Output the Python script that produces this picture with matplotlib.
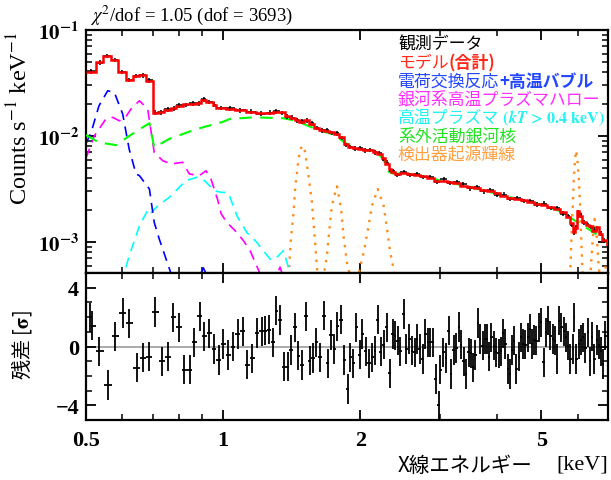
import matplotlib
matplotlib.use("Agg")
import matplotlib.pyplot as plt
import numpy as np
from matplotlib.ticker import FixedLocator, FixedFormatter, NullFormatter

plt.rcParams["font.family"] = ["Liberation Serif", "DejaVu Serif"]
plt.rcParams["mathtext.fontset"] = "stix"

CJK = ["Noto Sans CJK JP", "DejaVu Sans"]

# --- model (total) : step histogram, bin edges [keV] and rate per bin
model_edges = [
    0.500, 0.526, 0.545, 0.567, 0.589, 0.612, 0.633, 0.655, 0.677, 0.701,
    0.718, 0.743, 0.769, 0.788, 0.815, 0.843, 0.872, 0.895, 0.917, 0.949,
    0.965, 1.015, 1.060, 1.120, 1.180, 1.240, 1.290, 1.330, 1.365, 1.400,
    1.435, 1.470, 1.505, 1.545, 1.585, 1.625, 1.665, 1.710, 1.755, 1.800,
    1.845, 1.880, 1.925, 1.975, 2.025, 2.080, 2.130, 2.180, 2.230, 2.270,
    2.310, 2.340, 2.380, 2.450, 2.530, 2.620, 2.700, 2.800, 2.900, 3.000,
    3.100, 3.200, 3.310, 3.430, 3.550, 3.670, 3.800, 3.930, 4.060, 4.200,
    4.350, 4.500, 4.650, 4.810, 4.980, 5.150, 5.320, 5.500, 5.670, 5.790,
    5.860, 5.920, 5.980, 6.050, 6.150, 6.250, 6.370, 6.470, 6.580, 6.680,
    6.800, 6.950, 7.100,
]
model_rate = [
    0.0405, 0.0496, 0.0565, 0.0524, 0.0398, 0.0340, 0.0365, 0.0378, 0.0331, 0.0164,
    0.0169, 0.0176, 0.0182, 0.0193, 0.0199, 0.0201, 0.0205, 0.0219, 0.0211, 0.0196,
    0.0185, 0.0181, 0.0176, 0.0169, 0.0165, 0.0164, 0.0169, 0.0167, 0.0154, 0.0147,
    0.0143, 0.0137, 0.0142, 0.0130, 0.0118, 0.0115, 0.0112, 0.0108, 0.0104, 0.0097,
    0.0084, 0.0078, 0.0077, 0.0075, 0.0074, 0.0073, 0.0071, 0.0068, 0.0062, 0.0055,
    0.0049, 0.0046, 0.0044, 0.0045, 0.0044, 0.0043, 0.0042, 0.0040, 0.0038, 0.0038,
    0.0037, 0.0036, 0.0034, 0.0033, 0.0032, 0.0031, 0.0030, 0.0029, 0.0027, 0.0026,
    0.00254, 0.0025, 0.0024, 0.0023, 0.00224, 0.00215, 0.00205, 0.0019, 0.00172, 0.00150,
    0.00125, 0.00135, 0.00195, 0.00175, 0.00155, 0.00145, 0.00142, 0.00128, 0.00138, 0.00118,
    0.00105, 0.00096,
]
# observed data in the same bins
data_rate = [
    0.0408, 0.0492, 0.0570, 0.0520, 0.0402, 0.0337, 0.0368, 0.0375, 0.0334, 0.0166,
    0.0167, 0.0178, 0.0181, 0.0195, 0.0197, 0.0203, 0.0203, 0.0221, 0.0209, 0.0198,
    0.0184, 0.0183, 0.0175, 0.0170, 0.0163, 0.0166, 0.0171, 0.0165, 0.0152, 0.0149,
    0.0141, 0.0138, 0.0140, 0.0132, 0.0119, 0.0113, 0.0114, 0.0107, 0.0106, 0.0096,
    0.0082, 0.0079, 0.0076, 0.0077, 0.0073, 0.0074, 0.0070, 0.0069, 0.0061, 0.0056,
    0.0048, 0.0047, 0.0043, 0.0046, 0.0043, 0.0044, 0.0041, 0.0041, 0.0037, 0.0039,
    0.0036, 0.0037, 0.0035, 0.0032, 0.0033, 0.0030, 0.0031, 0.0028, 0.0028, 0.00255,
    0.0026, 0.00245, 0.00245, 0.00225, 0.0023, 0.0021, 0.0021, 0.00185, 0.00176, 0.00145,
    0.00122, 0.00138, 0.00190, 0.00179, 0.00152, 0.00148, 0.00139, 0.00131, 0.00135, 0.00120,
    0.00103, 0.00098,
]

# --- model components
cx_E = [0.500, 0.513, 0.534, 0.558, 0.577, 0.602, 0.622, 0.644, 0.655, 0.689,
        0.706, 0.724, 0.769, 0.800, 0.870, 0.905, 0.940, 1.000]
cx_rate = [0.0085, 0.0108, 0.0193, 0.0267, 0.0258, 0.0161, 0.0075, 0.00438, 0.00423, 0.00316,
           0.00153, 0.00107, 0.00050, 0.00030, 0.00040, 0.00057, 0.00040, 0.00020]

halo_E = [0.500, 0.504, 0.522, 0.553, 0.572, 0.592, 0.612, 0.628, 0.655, 0.683,
          0.706, 0.737, 0.769, 0.815, 0.843, 0.887, 0.917, 0.941, 0.973, 0.990,
          1.019, 1.072, 1.108, 1.146, 1.206, 1.250, 1.300, 1.334, 1.370, 1.450]
halo_rate = [0.0062, 0.00676, 0.0101, 0.0145, 0.0150, 0.0139, 0.0153, 0.0180, 0.0215, 0.0180,
             0.0070, 0.00585, 0.00545, 0.00565, 0.00438, 0.00423, 0.0047, 0.0039, 0.0025, 0.00185,
             0.00153, 0.00123, 0.00103, 0.00083, 0.00050, 0.00035, 0.00045, 0.00058, 0.00040, 0.00020]

hot_E = [0.580, 0.606, 0.622, 0.655, 0.683, 0.692, 0.719, 0.762, 0.829, 0.880,
         0.910, 0.957, 0.990, 1.026, 1.072, 1.127, 1.186, 1.268, 1.301, 1.357,
         1.404, 1.450]
hot_rate = [0.0002, 0.0005, 0.00074, 0.00142, 0.0020, 0.00185, 0.0022, 0.00264, 0.0038, 0.0041,
            0.0038, 0.00305, 0.00294, 0.00294, 0.00177, 0.00123, 0.00099, 0.00069, 0.00069, 0.00083,
            0.0005, 0.0002]

agn_E = [0.500, 0.534, 0.582, 0.622, 0.660, 0.689, 0.706, 0.762, 0.873, 0.998,
         1.036, 1.166, 1.355, 1.450, 1.606, 1.750, 1.870, 2.000, 2.177, 2.250,
         2.310, 2.370, 2.500, 2.750, 3.000, 3.500, 4.000, 4.500, 5.000, 5.500,
         5.690, 6.090, 6.670, 7.100]
agn_rate = [0.0102, 0.0087, 0.0082, 0.0100, 0.0118, 0.0132, 0.0078, 0.0094, 0.0116, 0.0136,
            0.0145, 0.0150, 0.0147, 0.0139, 0.0115, 0.0103, 0.0084, 0.0075, 0.0070, 0.0060,
            0.0046, 0.0044, 0.00445, 0.0042, 0.0038, 0.0033, 0.00284, 0.0025, 0.00225, 0.00195,
            0.00177, 0.00148, 0.00115, 0.00092]

line_E = [1.385, 1.397, 1.409, 1.428, 1.439, 1.464, 1.480, 1.494, 1.505, 1.514, 1.540, 1.567, 1.588, 1.606, 1.620,
          1.655, 1.667, 1.690, 1.712, 1.733, 1.778, 1.816, 1.838, 1.870, 1.892, 1.905,
          1.980, 1.994, 2.036, 2.081, 2.123, 2.185, 2.251, 2.290, 2.328, 2.367, 2.385,
          5.770, 5.790, 5.810, 5.850, 5.890, 5.925, 5.960, 5.995, 6.040, 6.090, 6.120, 6.150, 6.170,
          6.390, 6.410, 6.430, 6.480, 6.540, 6.620, 6.670, 6.700, 6.720,
          6.840, 6.920, 7.040]
line_rate = [4.0e-4, 5.95e-4, 1.07e-3, 1.9e-3, 3.16e-3, 6.07e-3, 7.6e-3, 8.1e-3, 7.8e-3, 7.0e-3, 4.2e-3, 2.37e-3, 1.15e-3, 5.95e-4, 4.0e-4,
             4.0e-4, 5.2e-4, 7.4e-4, 1.33e-3, 2.21e-3, 3.35e-3, 2.05e-3, 1.15e-3, 6.4e-4, 5.2e-4, 4.0e-4,
             4.0e-4, 5.6e-4, 8.0e-4, 1.33e-3, 2.21e-3, 3.16e-3, 2.21e-3, 1.33e-3, 8.0e-4, 5.6e-4, 4.0e-4,
             4.0e-4, 5.6e-4, 9.3e-4, 1.9e-3, 3.93e-3, 6.0e-3, 7.3e-3, 6.0e-3, 3.93e-3, 1.9e-3, 9.3e-4, 5.6e-4, 4.0e-4,
             4.0e-4, 5.2e-4, 6.4e-4, 1.07e-3, 1.65e-3, 1.07e-3, 6.4e-4, 5.2e-4, 4.0e-4,
             4.0e-4, 6.0e-4, 7.4e-4]

# --- residuals [sigma]
res_E = [
    0.510, 0.515, 0.535, 0.558, 0.580, 0.602, 0.622, 0.646, 0.666, 0.689,
    0.710, 0.734, 0.756, 0.778, 0.799, 0.822, 0.846, 0.865, 0.890, 0.910,
    0.933, 0.954, 0.977, 0.998, 1.027, 1.052, 1.077, 1.105, 1.129, 1.158,
    1.188, 1.216, 1.237, 1.258, 1.286, 1.308, 1.335, 1.362, 1.385, 1.411,
    1.439, 1.464, 1.489, 1.519, 1.548, 1.575, 1.601, 1.634, 1.667, 1.696,
    1.725, 1.754, 1.783, 1.814, 1.845, 1.876, 1.901, 1.928, 1.960, 1.993,
    2.020, 2.055, 2.090, 2.126, 2.155, 2.184, 2.221, 2.251, 2.289, 2.320,
    2.356, 2.388, 2.416, 2.449, 2.490, 2.524, 2.563, 2.598, 2.633, 2.665,
    2.701, 2.742, 2.780, 2.818, 2.851, 2.885, 2.934, 2.974, 2.999, 3.040,
    3.086, 3.128, 3.170, 3.208, 3.252, 3.290, 3.335, 3.374, 3.414, 3.461,
    3.502, 3.537, 3.579, 3.628, 3.671, 3.714, 3.752, 3.797, 3.842, 3.882,
    3.927, 3.975, 4.029, 4.077, 4.119, 4.167, 4.217, 4.259, 4.311, 4.362,
    4.406, 4.458, 4.511, 4.557, 4.610, 4.665, 4.712, 4.769, 4.825, 4.874,
    4.932, 4.991, 5.058, 5.119, 5.171, 5.232, 5.293, 5.347, 5.412, 5.476,
    5.532, 5.598, 5.665, 5.722, 5.789, 5.857, 5.907, 5.968, 6.038, 6.112,
    6.173, 6.246, 6.320, 6.384, 6.461, 6.538, 6.605, 6.681, 6.763, 6.832,
    6.912, 6.992,
]
res_sig = [
    1.98, 1.41, -0.33, -2.61, 0.69, 2.27, 1.57, -1.44, -0.76, -0.69,
    2.36, -1.01, -0.69, 1.98, 1.30, -1.57, -1.57, 0.28, 2.05, 0.69,
    0.89, -0.17, -0.92, 0.17, -0.58, 0.00, 0.85, 1.03, -1.23, -0.80,
    0.92, 1.03, 1.07, 1.14, 0.28, 2.43, 1.80, -1.37, -1.37, -0.24,
    1.30, -0.62, -1.25, 2.05, -0.96, -0.78, 0.28, -0.73, 2.09, -1.14,
    0.78, -0.17, 1.37, 1.82, -0.92, -2.88, -0.73, -1.14, 1.30, -0.55,
    0.85, -0.33, -1.14, -0.73, -0.28, 1.82, -0.35, 0.12, 1.30, -1.82,
    0.85, 0.73, 0.40, -0.33, 2.20, -0.17, 0.51, -0.28, -0.40, 0.51,
    -0.17, -0.85, 0.85, 0.28, 0.28, 0.28, -2.20, -4.01, -1.57, -0.40,
    -0.78, 1.07, -1.86, -0.24, -0.10, 1.34, 0.12, -1.01, -1.86, -0.40,
    -0.46, -1.41, -0.58, 1.59, 0.51, 0.06, 0.51, 0.51, -0.69, 0.62,
    0.06, -0.40, -0.46, -0.33, 0.89, 0.17, -1.53, -1.86, -0.24, 0.40,
    -1.53, -0.69, 0.62, 0.17, 0.12, 0.62, 1.19, 0.17, 0.44, 0.40,
    1.30, 1.64, -1.07, 0.96, 1.75, 0.73, 0.51, 0.40, -0.85, 1.75,
    1.30, 1.03, 0.62, 0.06, -0.85, -0.17, 1.98, -0.85, 0.17, 0.44,
    0.62, -0.10, 0.96, -1.01, 0.67, -0.85, 0.44, 0.12, -0.33, -1.19,
    0.73, 0.06,
]

x_ticks = [0.5, 1, 2, 5]
x_ticklabels = ["0.5", "1", "2", "5"]
y_ticks = [1e-3, 1e-2, 1e-1]
y_ticklabels = [r"$\mathbf{10^{-3}}$", r"$\mathbf{10^{-2}}$", r"$\mathbf{10^{-1}}$"]
res_ticks = [-4, 0, 4]
res_ticklabels = ["\u22124", "0", "4"]

# legend rows: colour, [(text, weight, fontsize)]
legend_rows = [
    ("black", [("観測データ", "normal", 12.2)]),
    ("#ff2a1a", [("モデル", "normal", 12.2), ("(合計)", "bold", 12.2)]),
    ("#2346ff", [("電荷交換反応", "normal", 12.2), ("+高温バブル", "bold", 12.2)]),
    ("#ff2cff", [("銀河系高温プラズマハロー", "normal", 12.2)]),
    ("#22f2f2", [("高温プラズマ", "normal", 12.2),
                 (r"$\mathbf{\ (}\mathbfit{kT}\,\mathbf{>}\,\mathbf{0.4\ keV)}$", "bold", 11.6)]),
    ("#22e022", [("系外活動銀河核", "normal", 12.2)]),
    ("#ffa040", [("検出器起源輝線", "normal", 12.2)]),
]

W, H = 611, 481
fig = plt.figure(figsize=(W / 100, H / 100), dpi=100)
ax1 = fig.add_axes([86 / W, 1 - 274 / H, 522 / W, 243 / H])
ax2 = fig.add_axes([86 / W, 1 - 421 / H, 522 / W, 147 / H])

edges = np.array(model_edges)
centers = np.sqrt(edges[:-1] * edges[1:])
drate = np.array(data_rate)

dash = (0, (6, 4))
ax1.plot(line_E, line_rate, color="#ff8c1a", lw=1.7, ls=(0, (1, 2.6)), zorder=2)
ax1.plot(hot_E, hot_rate, color="#00ffff", lw=1.2, ls=dash, zorder=2)
ax1.plot(halo_E, halo_rate, color="#ff00ff", lw=1.2, ls=dash, zorder=2)
ax1.plot(cx_E, cx_rate, color="#0000ff", lw=1.2, ls=dash, zorder=2)
ax1.plot(agn_E, agn_rate, color="#00ff00", lw=1.5, ls=dash, zorder=3)
ax1.errorbar(centers, drate, xerr=[centers - edges[:-1], edges[1:] - centers],
             yerr=drate * 0.05, fmt="none", ecolor="black", elinewidth=1.1, zorder=4)
ax1.stairs(model_rate, model_edges, baseline=None, color="red", lw=1.8, zorder=5)

ax1.set_xscale("log")
ax1.set_yscale("log")
ax1.set_xlim(0.5, 7.0)
ax1.set_ylim(5.1e-4, 0.1)

# residuals
rE = np.array(res_E)
mid = np.sqrt(rE[:-1] * rE[1:])
lo = np.concatenate([[rE[0] - (mid[0] - rE[0])], mid])
hi = np.concatenate([mid, [rE[-1] + (rE[-1] - mid[-1])]])
ax2.axhline(0, color="#aaaaaa", lw=1.4, zorder=1)
ax2.errorbar(rE, res_sig, xerr=[rE - lo, hi - rE], yerr=1.0, fmt="none",
             ecolor="black", elinewidth=1.3, zorder=3)
ax2.set_xscale("log")
ax2.set_xlim(0.5, 7.0)
ax2.set_ylim(-5, 5)

for ax in (ax1, ax2):
    ax.xaxis.set_major_locator(FixedLocator(x_ticks))
    ax.xaxis.set_minor_locator(FixedLocator([0.6, 0.7, 0.8, 0.9, 3, 4, 6, 7]))
    ax.xaxis.set_minor_formatter(NullFormatter())
    ax.tick_params(which="both", direction="in", top=True, right=True)
    ax.tick_params(which="major", length=7, width=1.3)
    ax.tick_params(which="minor", length=4, width=1.1)
    for sp in ax.spines.values():
        sp.set_linewidth(1.6)

ax1.xaxis.set_major_formatter(NullFormatter())
ax1.yaxis.set_major_locator(FixedLocator(y_ticks))
ax1.yaxis.set_major_formatter(FixedFormatter(y_ticklabels))
ax1.tick_params(axis="y", labelsize=15, pad=5)

ax2.xaxis.set_major_formatter(FixedFormatter(x_ticklabels))
ax2.yaxis.set_major_locator(FixedLocator(res_ticks))
ax2.yaxis.set_minor_locator(FixedLocator([-5, -3, -2, -1, 1, 2, 3, 5]))
ax2.yaxis.set_major_formatter(FixedFormatter(res_ticklabels))
ax2.tick_params(axis="y", labelsize=16, pad=5)
ax2.tick_params(axis="x", labelsize=16, pad=7)
for lab in ax2.get_xticklabels() + ax2.get_yticklabels():
    lab.set_fontweight("bold")

fig.text(90 / W, 1 - 15 / H, r"$\chi^2$/dof = 1.05 (dof = 3693)", fontsize=13.5,
         ha="left", va="center")
fig.text(20 / W, 1 - 118 / H, r"Counts s$^{-1}$ keV$^{-1}$", fontsize=17.5,
         rotation=90, ha="center", va="center")
fig.text(22 / W, 1 - 345 / H, r"残差 [$\mathbf{\sigma}$]", fontsize=14.5, family=CJK,
         rotation=90, ha="center", va="center")
fig.text(532 / W, 1 - 466 / H, "X線エネルギー", fontsize=14.8, family=CJK,
         ha="right", va="center")
fig.text(608 / W, 1 - 465 / H, "[keV]", fontsize=16, ha="right", va="center")

# legend as coloured text rows
row_y = [45, 63, 82, 100, 118, 137, 155]
for (color, parts), yy in zip(legend_rows, row_y):
    s0, w0, fs0 = parts[0]
    t = fig.text(398 / W, 1 - yy / H, s0, color=color, fontsize=fs0,
                 family=CJK, fontweight=w0, ha="left", va="center")
    for s, w, fs in parts[1:]:
        t = ax1.annotate(s, xy=(1, 0.5), xycoords=t, color=color, fontsize=fs,
                         family=CJK, fontweight=w, ha="left", va="center")

fig.savefig("out.png", dpi=100)
